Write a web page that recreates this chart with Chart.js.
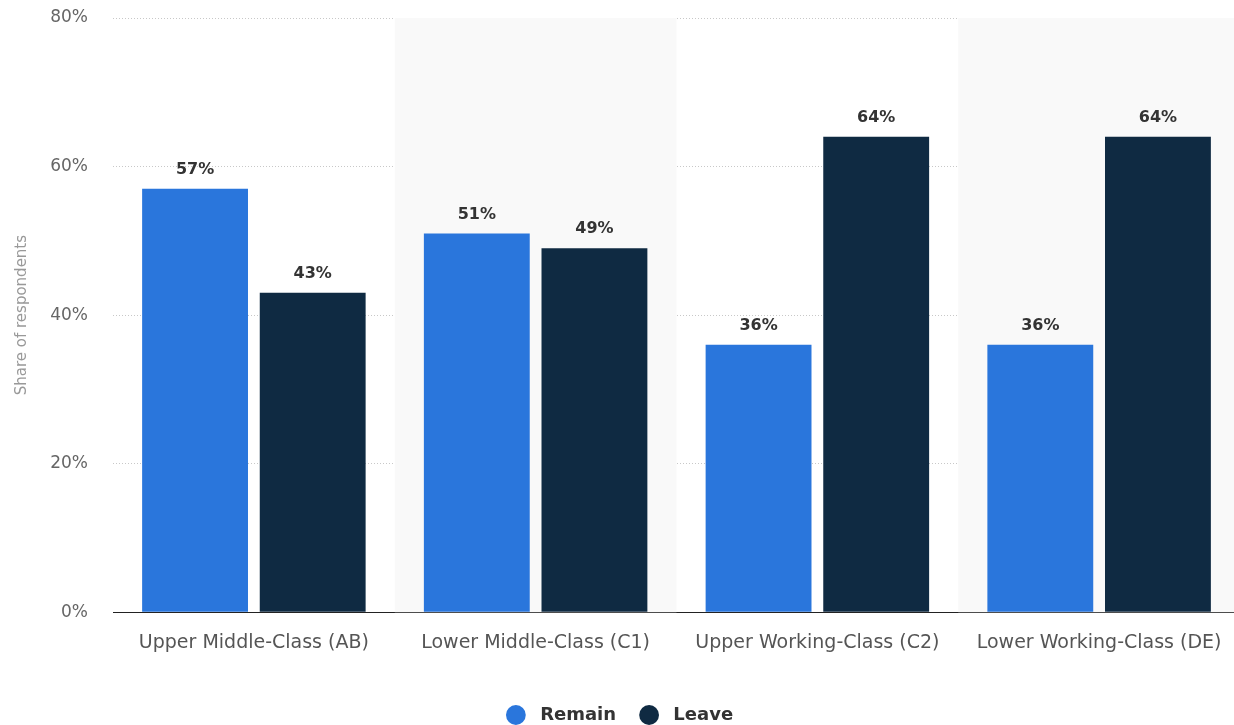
<!DOCTYPE html>
<html>
<head>
<meta charset="utf-8">
<script src="https://cdn.jsdelivr.net/npm/chart.js@4/dist/chart.umd.min.js"></script>
<style>
  html, body { margin: 0; padding: 0; background: #fff; overflow: hidden; }
  #wrap { width: 1234px; height: 725px; overflow: hidden; }
</style>
</head>
<body>
<div id="wrap"><canvas id="classChart" width="1240" height="725"></canvas></div>
<script>
const categories = ['Upper Middle-Class (AB)', 'Lower Middle-Class (C1)', 'Upper Working-Class (C2)', 'Lower Working-Class (DE)'];
const remainValues = [57, 51, 36, 36];
const leaveValues = [43, 49, 64, 64];
const yTicks = [0, 20, 40, 60, 80];

const FONT = 'DejaVu Sans';

// shaded bands behind every second category
const bandPlugin = {
  id: 'bands',
  beforeDatasetsDraw(chart) {
    const { ctx, chartArea, scales } = chart;
    const x = scales.x;
    const half = (x.getPixelForValue(1) - x.getPixelForValue(0)) / 2;
    ctx.save();
    ctx.fillStyle = '#f9f9f9';
    categories.forEach((c, i) => {
      if (i % 2 === 1) {
        const cx = x.getPixelForValue(i);
        ctx.fillRect(cx - half, chartArea.top, half * 2, chartArea.bottom - chartArea.top);
      }
    });
    ctx.restore();
  }
};

// value labels above each bar
const valueLabels = {
  id: 'valueLabels',
  afterDatasetsDraw(chart) {
    const { ctx } = chart;
    ctx.save();
    ctx.font = 'bold 16px ' + FONT;
    ctx.fillStyle = '#333';
    ctx.textAlign = 'center';
    ctx.textBaseline = 'bottom';
    chart.data.datasets.forEach((ds, di) => {
      chart.getDatasetMeta(di).data.forEach((bar, i) => {
        ctx.fillText(ds.data[i] + '%', bar.x, bar.y - 11);
      });
    });
    ctx.restore();
  }
};

const config = {
  type: 'bar',
  data: {
    labels: categories,
    datasets: [
      { label: 'Remain', data: remainValues, backgroundColor: '#2a76dc' },
      { label: 'Leave', data: leaveValues, backgroundColor: '#0f2a42' }
    ]
  },
  options: {
    responsive: false,
    animation: false,
    categoryPercentage: 0.835,
    barPercentage: 0.9,
    layout: { padding: { top: 18, right: 0, left: 0, bottom: -9 } },
    scales: {
      x: {
        grid: { display: false },
        border: { color: '#222', width: 1 },
        ticks: { color: '#555', font: { family: FONT, size: 19 }, padding: 11 }
      },
      y: {
        min: 0,
        max: 80,
        afterBuildTicks(axis) { axis.ticks = yTicks.map(v => ({ value: v })); },
        afterFit(axis) { axis.width = 113; },
        border: { display: false, dash: [1, 2] },
        grid: { color: '#c8c8c8', drawTicks: true, tickLength: 25, tickColor: 'rgba(0,0,0,0)' },
        ticks: { color: '#666', font: { family: FONT, size: 17 }, padding: 0, callback: v => v + '%' },
        title: { display: true, text: 'Share of respondents', color: '#999', font: { family: FONT, size: 15 }, padding: { top: 13, bottom: 0 } }
      }
    },
    plugins: {
      legend: {
        position: 'bottom',
        title: { display: true, text: ' ', color: 'rgba(0,0,0,0)', font: { size: 10 }, padding: { top: 0, bottom: 5 } },
        labels: {
          usePointStyle: true,
          pointStyle: 'circle',
          boxWidth: 18,
          boxHeight: 14,
          padding: 24,
          color: '#333',
          font: { family: FONT, size: 18, weight: 'bold' },
          generateLabels(chart) {
            return Chart.defaults.plugins.legend.labels.generateLabels(chart).map(item => {
              item.text = ' ' + item.text;
              return item;
            });
          }
        }
      },
      tooltip: { enabled: false }
    }
  },
  plugins: [bandPlugin, valueLabels]
};

window.onload = function() {
  const ctx = document.getElementById('classChart').getContext('2d');
  new Chart(ctx, config);
};
</script>
</body>
</html>
